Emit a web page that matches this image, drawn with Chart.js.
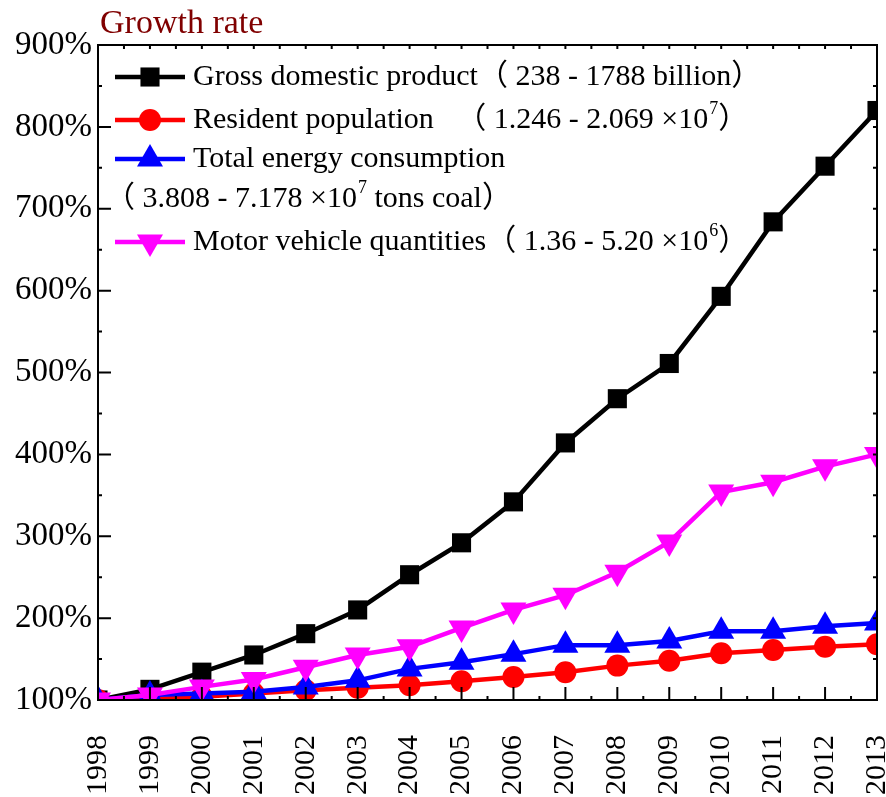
<!DOCTYPE html>
<html>
<head>
<meta charset="utf-8">
<title>Growth rate</title>
<script src="https://cdn.jsdelivr.net/npm/chart.js@4.4.0/dist/chart.umd.min.js"></script>
<style>
    html, body { margin: 0; padding: 0; background: #fff; overflow: hidden; }
    #wrap { width: 886px; height: 797px; position: relative; }
</style>
</head>
<body>
<div id="wrap"><canvas id="growthChart"></canvas></div>
<script>
// Data (growth rate, 1998 = 100%)
const years = ['1998', '1999', '2000', '2001', '2002', '2003', '2004', '2005',
               '2006', '2007', '2008', '2009', '2010', '2011', '2012', '2013'];
const gdp        = [100, 113, 134, 155, 181, 210, 253, 292, 342, 414, 468, 511, 593, 684, 752, 820];
const population = [100, 101, 104, 108, 112, 115, 118, 123, 128, 134, 142, 148, 157, 161, 165, 168];
const energy     = [100, 106, 108, 110, 116, 124, 138, 146, 156, 167, 167, 172, 184, 184, 190, 194];
const vehicles   = [100, 106, 116, 125, 140, 155, 165, 188, 210, 228, 256, 293, 354, 366, 385, 400];

const yMin = 100;
const yMax = 900;
const yStep = 100;

const titleText = 'Growth rate';
// '^' marks a superscript piece
const legendRows = [
    { series: 0, parts: ['Gross domestic product（ 238 - 1788 billion）'] },
    { series: 1, parts: ['Resident population   （ 1.246 - 2.069 ×10', '^7', '）'] },
    { series: 2, parts: ['Total energy consumption'] },
    { series: -1, parts: ['（ 3.808 - 7.178 ×10', '^7', ' tons coal）'] },
    { series: 3, parts: ['Motor vehicle quantities（ 1.36 - 5.20 ×10', '^6', '）'] }
];

const FONT = "'Liberation Serif', 'Times New Roman', 'Noto Sans CJK SC', serif";

function drawMarker(ctx, style, x, y) {
    ctx.beginPath();
    if (style.shape === 'rect') {
        const s = style.radius * Math.SQRT1_2;
        ctx.rect(x - s, y - s, 2 * s, 2 * s);
    } else if (style.shape === 'circle') {
        ctx.arc(x, y, style.radius, 0, Math.PI * 2);
    } else {
        const r = style.radius;
        const dir = style.down ? -1 : 1;
        ctx.moveTo(x, y - dir * r);
        ctx.lineTo(x + r * Math.sin(Math.PI * 2 / 3), y + dir * r / 2);
        ctx.lineTo(x - r * Math.sin(Math.PI * 2 / 3), y + dir * r / 2);
        ctx.closePath();
    }
    ctx.fill();
}

const decorPlugin = {
    id: 'decor',
    afterDraw(chart) {
        const ctx = chart.ctx;
        const a = chart.chartArea;
        const x = chart.scales.x;
        const y = chart.scales.y;
        ctx.save();

        // frame
        ctx.strokeStyle = '#000';
        ctx.lineWidth = 2;
        ctx.strokeRect(a.left, a.top, a.right - a.left, a.bottom - a.top);

        // inward ticks
        ctx.beginPath();
        for (let v = yMin; v <= yMax; v += yStep / 2) {
            const py = y.getPixelForValue(v);
            const major = (v - yMin) % yStep === 0;
            ctx.moveTo(a.left, py);
            ctx.lineTo(a.left + (major ? 13 : 4), py);
            ctx.moveTo(a.right, py);
            ctx.lineTo(a.right - 4, py);
        }
        for (let i = 0; i < years.length; i++) {
            const px = x.getPixelForValue(i);
            ctx.moveTo(px, a.bottom);
            ctx.lineTo(px, a.bottom - 13);
            ctx.moveTo(px, a.top);
            ctx.lineTo(px, a.top + 4);
            if (i < years.length - 1) {
                const mx = (px + x.getPixelForValue(i + 1)) / 2;
                ctx.moveTo(mx, a.bottom);
                ctx.lineTo(mx, a.bottom - 4);
                ctx.moveTo(mx, a.top);
                ctx.lineTo(mx, a.top + 4);
            }
        }
        ctx.stroke();

        // title
        ctx.fillStyle = '#800000';
        ctx.font = '34px ' + FONT;
        ctx.textBaseline = 'alphabetic';
        ctx.textAlign = 'left';
        ctx.fillText(titleText, 100, 33);

        // legend
        const rowY = [77, 120, 159, 199, 242];
        legendRows.forEach((row, i) => {
            const ry = rowY[i];
            let tx = 193;
            if (row.series >= 0) {
                const ds = chart.data.datasets[row.series];
                ctx.strokeStyle = ds.borderColor;
                ctx.fillStyle = ds.borderColor;
                ctx.lineWidth = 4.5;
                ctx.beginPath();
                ctx.moveTo(115, ry);
                ctx.lineTo(185, ry);
                ctx.stroke();
                drawMarker(ctx, ds.legendMarker, 150, ry);
            } else {
                tx = 105;
            }
            ctx.fillStyle = '#000';
            ctx.textBaseline = 'middle';
            row.parts.forEach(p => {
                if (p.startsWith('^')) {
                    ctx.font = '18px ' + FONT;
                    const t = p.slice(1);
                    ctx.fillText(t, tx + 1, ry - 11);
                    tx += ctx.measureText(t).width + 1;
                } else {
                    ctx.font = '30px ' + FONT;
                    ctx.fillText(p, tx, ry);
                    tx += ctx.measureText(p).width;
                }
            });
        });

        ctx.restore();
    }
};

function makeSeries(label, data, color, shape, radius, rotation, order) {
    return {
        label: label,
        data: data,
        borderColor: color,
        backgroundColor: color,
        borderWidth: 4.5,
        pointStyle: shape,
        pointRadius: radius,
        pointRotation: rotation,
        pointBorderWidth: 0,
        pointBackgroundColor: color,
        tension: 0,
        clip: 1,
        order: order,
        legendMarker: { shape: shape, radius: radius, down: rotation === 180 }
    };
}

const ctxEl = document.getElementById('growthChart');
new Chart(ctxEl, {
    type: 'line',
    data: {
        labels: years,
        datasets: [
            makeSeries('Gross domestic product', gdp, '#000000', 'rect', 13.5, 0, 4),
            makeSeries('Resident population', population, '#ff0000', 'circle', 11, 0, 3),
            makeSeries('Total energy consumption', energy, '#0000ff', 'triangle', 15, 0, 2),
            makeSeries('Motor vehicle quantities', vehicles, '#ff00ff', 'triangle', 15, 180, 1)
        ]
    },
    options: {
        responsive: true,
        maintainAspectRatio: false,
        animation: false,
        events: [],
        layout: {
            autoPadding: false,
            padding: { top: 45, right: 9, left: 0, bottom: 0 }
        },
        plugins: {
            legend: { display: false },
            tooltip: { enabled: false }
        },
        scales: {
            x: {
                offset: false,
                grid: { display: false, drawTicks: false },
                border: { display: false },
                ticks: {
                    color: '#000',
                    font: { family: FONT, size: 30 },
                    minRotation: 90,
                    maxRotation: 90,
                    autoSkip: false,
                    padding: 35
                },
                afterFit(scale) {
                    scale.height = 97;
                    scale.paddingLeft = 0;
                    scale.paddingRight = 0;
                }
            },
            y: {
                min: yMin,
                max: yMax,
                grid: { display: false, drawTicks: false },
                border: { display: false },
                ticks: {
                    stepSize: yStep,
                    color: '#000',
                    font: { family: FONT, size: 33 },
                    padding: 6,
                    callback: v => v + '%'
                },
                afterFit(scale) {
                    scale.width = 98;
                    scale.paddingTop = 0;
                    scale.paddingBottom = 0;
                }
            }
        }
    },
    plugins: [decorPlugin]
});
</script>
</body>
</html>
